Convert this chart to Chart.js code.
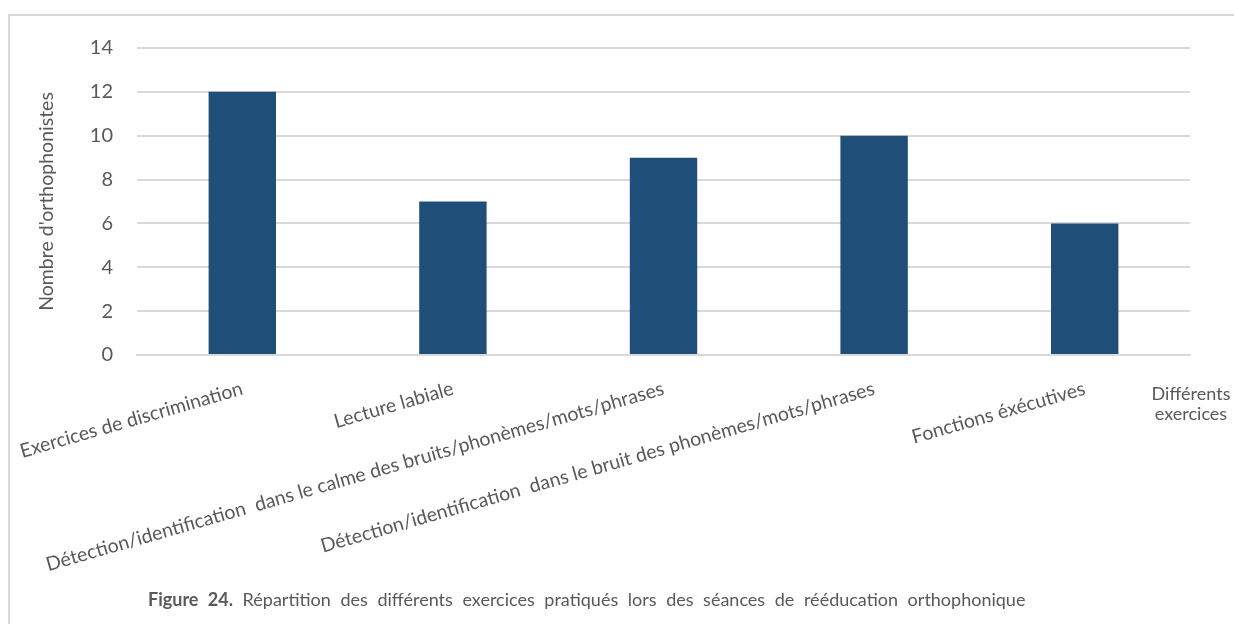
<!DOCTYPE html>
<html>
<head>
<meta charset="utf-8">
<script src="https://cdn.jsdelivr.net/npm/chart.js@4.4.1/dist/chart.umd.min.js"></script>
<style>
  html, body { margin: 0; padding: 0; background: #fff; overflow: hidden; }
  body { width: 1234px; height: 624px; position: relative; font-family: Lato, "Open Sans", sans-serif; }
  #frame { position: absolute; left: 8px; top: 14px; width: 1260px; height: 660px; border: 2px solid #d9d9d9; box-sizing: border-box; }
  #wrap { position: absolute; left: 0; top: 0; width: 1234px; height: 624px; }
  #axisTitle { position: absolute; left: 1141px; top: 383px; width: 100px; text-align: center; color: #595959; font-size: 18px; line-height: 20px; white-space: nowrap; }
  #caption { position: absolute; left: 148px; top: 588px; color: #595959; font-size: 18px; word-spacing: 5px; white-space: nowrap; }
</style>
</head>
<body>
<div id="frame"></div>
<div id="wrap"><canvas id="barChart" width="1234" height="624"></canvas></div>
<div id="axisTitle">Différents<br>exercices</div>
<div id="caption"><b>Figure 24.</b> Répartition des différents exercices pratiqués lors des séances de rééducation orthophonique</div>
<script>
// données
const categories = [
  'Exercices de discrimination',
  'Lecture labiale',
  'Détection/identification  dans le calme des bruits/phonèmes/mots/phrases',
  'Détection/identification  dans le bruit des phonèmes/mots/phrases',
  'Fonctions éxécutives'
];
const values = [12, 7, 9, 10, 6];
const yTicks = [0, 2, 4, 6, 8, 10, 12, 14];

const grey = '#595959';
const gridColor = '#d9d9d9';

const ctx = document.getElementById('barChart').getContext('2d');
new Chart(ctx, {
  type: 'bar',
  data: {
    labels: categories,
    datasets: [{
      label: "Nombre d'orthophonistes",
      data: values,
      backgroundColor: '#1f4e79',
      borderWidth: 0,
      categoryPercentage: 1,
      barPercentage: 0.32
    }]
  },
  options: {
    responsive: false,
    animation: false,
    devicePixelRatio: 1,
    layout: {
      padding: { left: 31, top: 48, right: 44, bottom: 0 }
    },
    plugins: {
      legend: { display: false },
      tooltip: { enabled: false }
    },
    scales: {
      x: {
        grid: { display: false },
        border: { color: gridColor, width: 2 },
        ticks: {
          color: grey,
          font: { family: 'Lato', size: 19.5 },
          minRotation: 16,
          maxRotation: 16,
          autoSkip: false,
          padding: 14
        },
        afterFit: function (scale) {
          scale.height = 269;
          // les étiquettes longues débordent à gauche : on garde la zone de tracé fixe
          scale.paddingLeft = 0;
          scale.paddingRight = 0;
        }
      },
      y: {
        min: 0,
        max: 14,
        afterBuildTicks: function (scale) {
          scale.ticks = yTicks.map(v => ({ value: v }));
        },
        grid: { color: gridColor, lineWidth: 2, drawTicks: false },
        border: { display: false },
        ticks: {
          color: grey,
          font: { family: 'Lato', size: 20 },
          padding: 24
        },
        title: {
          display: true,
          text: "Nombre d'orthophonistes",
          color: grey,
          font: { family: 'Lato', size: 19.5 },
          padding: 4
        },
        afterFit: function (scale) {
          scale.width = 106;
          scale.paddingTop = 0;
          scale.paddingBottom = 0;
        }
      }
    }
  }
});
</script>
</body>
</html>
